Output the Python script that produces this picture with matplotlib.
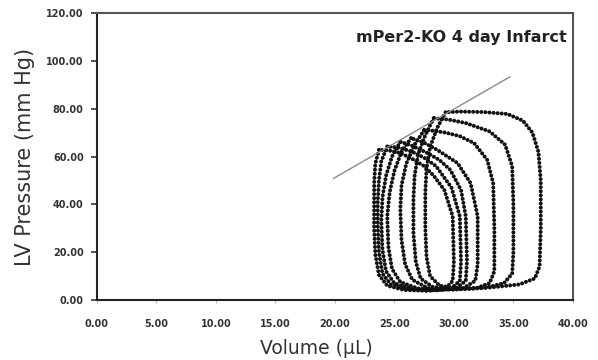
import matplotlib
matplotlib.use('Agg')
import matplotlib.pyplot as plt

# pressure-volume loops (volume uL, pressure mm Hg)
vol_loop1 = [29.3, 28.6, 28.0, 27.7, 27.6, 27.6, 27.7, 28.0, 28.8, 30.5, 33.0, 35.5, 36.8, 37.2, 37.3, 37.3, 37.1, 36.6, 35.8, 34.5, 32.5, 30.5, 29.3]
pres_loop1 = [78.5, 72.0, 64.0, 55.0, 45.0, 30.0, 18.0, 10.0, 6.0, 4.8, 5.2, 6.5, 9.0, 14.0, 30.0, 50.0, 62.0, 70.0, 75.0, 77.8, 78.6, 78.8, 78.5]

vol_loop2 = [28.3, 27.6, 27.0, 26.7, 26.6, 26.6, 26.8, 27.2, 28.2, 30.0, 32.5, 34.2, 34.9, 35.0, 35.0, 34.9, 34.3, 33.0, 31.0, 29.5, 28.3]
pres_loop2 = [76.0, 69.0, 61.0, 52.0, 42.0, 28.0, 16.0, 9.0, 5.5, 4.5, 5.0, 7.0, 11.0, 20.0, 40.0, 56.0, 65.0, 70.5, 74.0, 75.5, 76.0]

vol_loop3 = [27.5, 26.7, 26.0, 25.6, 25.5, 25.6, 25.9, 26.5, 27.8, 29.8, 31.8, 33.0, 33.4, 33.4, 33.3, 32.8, 31.7, 30.5, 29.3, 28.2, 27.5]
pres_loop3 = [71.0, 65.0, 57.0, 48.0, 38.0, 25.0, 15.0, 8.5, 5.0, 4.3, 4.8, 7.0, 12.0, 30.0, 48.9, 58.6, 65.6, 68.5, 70.0, 70.8, 71.0]

vol_loop4 = [26.4, 25.6, 25.0, 24.6, 24.4, 24.5, 24.8, 25.5, 27.0, 29.0, 30.8, 31.8, 32.0, 32.0, 31.4, 30.3, 29.3, 28.6, 27.4, 26.4]
pres_loop4 = [67.7, 62.0, 54.0, 45.0, 35.0, 22.0, 13.0, 7.5, 4.8, 4.2, 5.0, 8.0, 15.0, 35.0, 48.9, 57.3, 60.5, 62.8, 66.0, 67.7]

vol_loop5 = [25.5, 24.8, 24.3, 24.0, 23.9, 24.0, 24.3, 25.0, 26.5, 28.5, 30.2, 31.0, 31.1, 31.0, 30.6, 29.7, 28.8, 27.8, 26.5, 25.5]
pres_loop5 = [66.2, 60.0, 52.0, 43.0, 33.0, 21.0, 12.0, 7.0, 4.6, 4.0, 5.0, 8.0, 16.0, 35.0, 46.0, 54.4, 58.5, 61.4, 64.5, 66.2]

vol_loop6 = [24.4, 23.9, 23.7, 23.6, 23.6, 23.7, 24.0, 24.7, 26.0, 28.0, 29.8, 30.5, 30.6, 30.5, 29.8, 28.5, 27.5, 26.5, 25.3, 24.4]
pres_loop6 = [64.2, 58.0, 50.0, 41.0, 31.0, 20.0, 11.0, 6.5, 4.5, 4.0, 5.0, 8.0, 16.0, 35.0, 47.0, 56.0, 59.5, 62.0, 63.8, 64.2]

vol_loop7 = [23.7, 23.4, 23.3, 23.3, 23.3, 23.4, 23.7, 24.4, 25.8, 27.8, 29.3, 29.9, 30.0, 29.9, 29.2, 28.3, 27.5, 26.5, 25.5, 24.5, 23.7]
pres_loop7 = [62.8, 57.0, 49.0, 40.0, 30.0, 19.0, 10.5, 6.0, 4.2, 3.8, 4.8, 8.0, 16.0, 35.0, 46.0, 52.0, 56.0, 59.0, 61.5, 62.6, 62.8]

# end-systolic pressure-volume relation line
espvr_vol = [19.9, 34.7]
espvr_pres = [50.9, 93.3]

x_ticks = [0, 5, 10, 15, 20, 25, 30, 35, 40]
y_ticks = [0, 20, 40, 60, 80, 100, 120]

plt.rcParams['font.family'] = 'DejaVu Sans'

fig = plt.figure(figsize=(5.98, 3.60), dpi=100)
ax = fig.add_axes([0.162, 0.1667, 0.796, 0.797])

loops = [(vol_loop1, pres_loop1), (vol_loop2, pres_loop2), (vol_loop3, pres_loop3),
         (vol_loop4, pres_loop4), (vol_loop5, pres_loop5), (vol_loop6, pres_loop6),
         (vol_loop7, pres_loop7)]
for v, p in loops:
    ax.plot(v, p, color='#111111', linewidth=2.9, linestyle=(0, (0.01, 1.0)),
            dash_capstyle='round', solid_joinstyle='round')

ax.plot(espvr_vol, espvr_pres, color='#8a8a8a', linewidth=1.0)

ax.set_xlim(0, 40)
ax.set_ylim(0, 120)
ax.set_xticks(x_ticks)
ax.set_yticks(y_ticks)
ax.set_xticklabels(['%.2f' % t for t in x_ticks], fontsize=7, fontweight='bold', color='#333333')
ax.set_yticklabels(['%.2f' % t for t in y_ticks], fontsize=7, fontweight='bold', color='#333333')
ax.tick_params(axis='y', direction='out', length=4.5, width=1.2, color='#333333', pad=5)
ax.tick_params(axis='x', direction='out', length=2, width=0.8, color='#bbbbbb', pad=12)

for side in ['left', 'bottom']:
    ax.spines[side].set_linewidth(1.5)
    ax.spines[side].set_color('#222222')
for side in ['top', 'right']:
    ax.spines[side].set_linewidth(1.5)
    ax.spines[side].set_color('#555555')

ax.set_xlabel('Volume (µL)', fontsize=13.5, color='#333333', labelpad=4)
ax.xaxis.set_label_coords(0.462, -0.135)
ax.set_ylabel('LV Pressure (mm Hg)', fontsize=15, color='#333333', labelpad=8)

ax.text(0.987, 0.90, 'mPer2-KO 4 day Infarct', transform=ax.transAxes,
        ha='right', va='baseline', fontsize=11.5, fontweight='bold', color='#222222')

plt.savefig('out.png', dpi=100)
